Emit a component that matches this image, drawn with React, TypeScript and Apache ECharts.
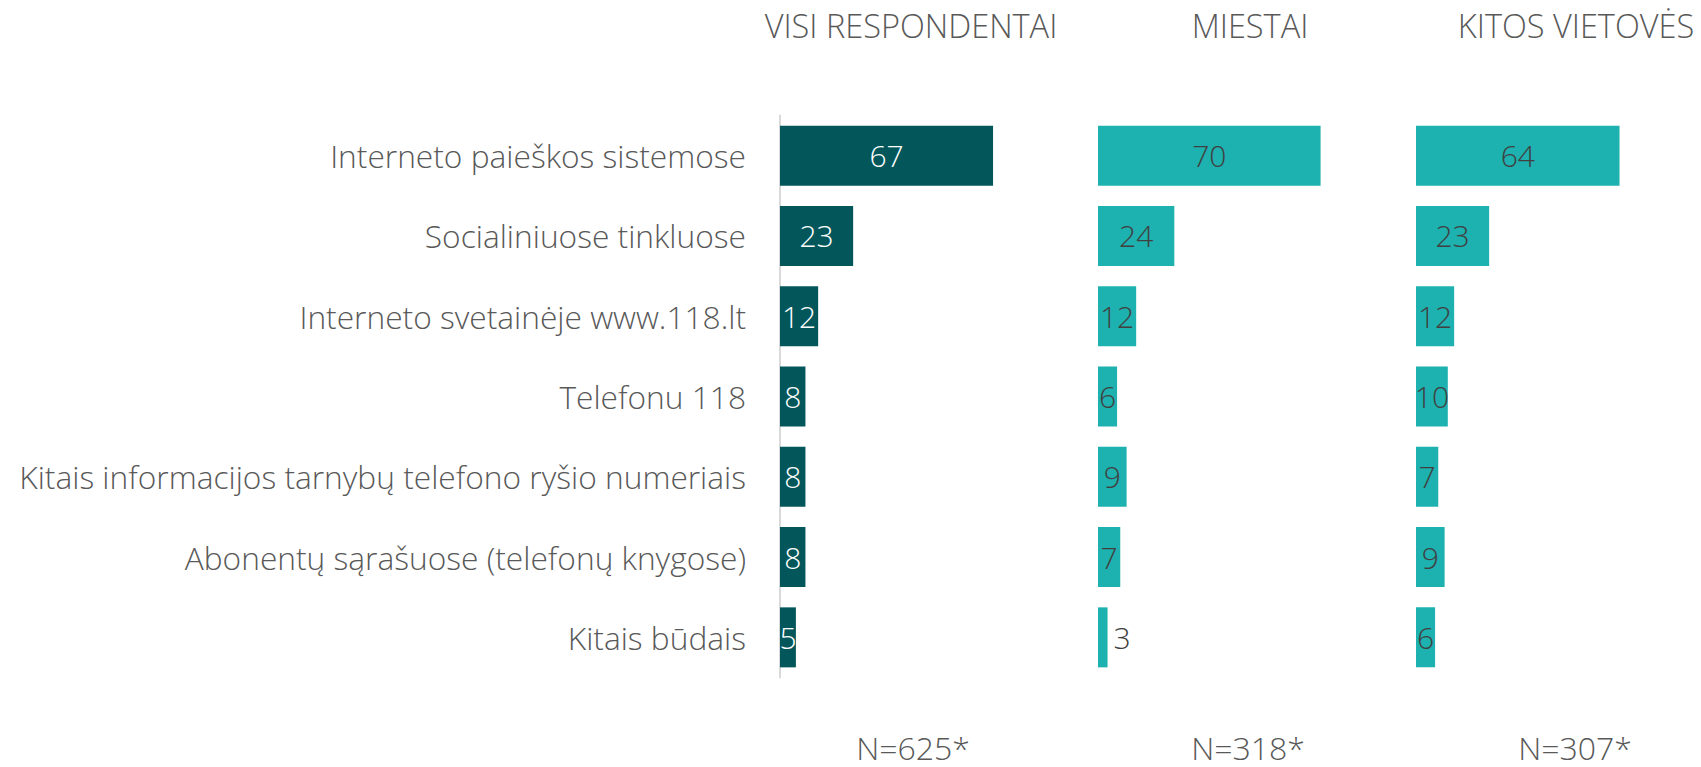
import React, { useEffect, useRef } from "react";
import * as echarts from "echarts";

const categories = [
  "Interneto paieškos sistemose",
  "Socialiniuose tinkluose",
  "Interneto svetainėje www.118.lt",
  "Telefonu 118",
  "Kitais informacijos tarnybų telefono ryšio numeriais",
  "Abonentų sąrašuose (telefonų knygose)",
  "Kitais būdais",
];
const panelTitles = ["VISI RESPONDENTAI", "MIESTAI", "KITOS VIETOVĖS"];
const sampleSizes = ["N=625*", "N=318*", "N=307*"];
const visiValues = [67, 23, 12, 8, 8, 8, 5];
const miestaiValues = [70, 24, 12, 6, 9, 7, 3];
const kitosValues = [64, 23, 12, 10, 7, 9, 6];

const FONT = "'Open Sans', sans-serif";
const TEXT = "#595959";

export default function App() {
  const ref = useRef<HTMLDivElement>(null);
  useEffect(() => {
    if (!ref.current) return;
    const chart = echarts.init(ref.current, null, { renderer: "svg" });
    const lefts = [780, 1098, 1416];
    const top = 115.5;
    const height = 562;
    const width = 254.4;
    const axisMax = 80;
    const seriesData = [visiValues, miestaiValues, kitosValues];
    const barColors = ["#03575B", "#1DB1AF", "#1DB1AF"];
    const labelColors = ["#ffffff", "#404040", "#404040"];
    const titleCenters = [911, 1250, 1576];
    const nCenters = [913, 1248, 1575];

    const option: any = {
      animation: false,
      grid: lefts.map((l) => ({ left: l, top, width, height, containLabel: false })),
      xAxis: lefts.map((_, i) => ({
        type: "value",
        gridIndex: i,
        min: 0,
        max: axisMax,
        show: false,
      })),
      yAxis: lefts.map((_, i) => ({
        type: "category",
        gridIndex: i,
        data: categories,
        inverse: true,
        axisTick: { show: false },
        axisLine: { show: i === 0, lineStyle: { color: "#D9D9D9", width: 2 } },
        axisLabel: {
          show: i === 0,
          margin: 34,
          color: TEXT,
          fontFamily: FONT,
          fontWeight: 300,
          fontSize: 31.7,
        },
        splitLine: { show: false },
      })),
      series: seriesData.map((vals, i) => ({
        type: "bar",
        xAxisIndex: i,
        yAxisIndex: i,
        barWidth: 60,
        itemStyle: { color: barColors[i] },
        data: vals.map((v) =>
          v <= 3
            ? { value: v, label: { position: "right", distance: 6 } }
            : { value: v }
        ),
        label: {
          show: true,
          position: "inside",
          color: labelColors[i],
          fontFamily: FONT,
          fontWeight: 300,
          fontSize: 30,
        },
      })),
      graphic: [
        ...panelTitles.map((t, i) => ({
          type: "text",
          x: titleCenters[i],
          y: 25,
          style: {
            text: t,
            fill: TEXT,
            font: `300 32.5px ${FONT}`,
            textAlign: "center",
            textVerticalAlign: "middle",
          },
        })),
        ...sampleSizes.map((t, i) => ({
          type: "text",
          x: nCenters[i],
          y: 747,
          style: {
            text: t,
            fill: TEXT,
            font: `300 32px ${FONT}`,
            lineHeight: 32,
            textAlign: "center",
            textVerticalAlign: "middle",
          },
        })),
      ],
    };
    chart.setOption(option);
    return () => chart.dispose();
  }, []);
  return (
    <div
      ref={ref}
      style={{ position: "fixed", left: 0, top: 0, width: 1701, height: 767, background: "#fff" }}
    />
  );
}
